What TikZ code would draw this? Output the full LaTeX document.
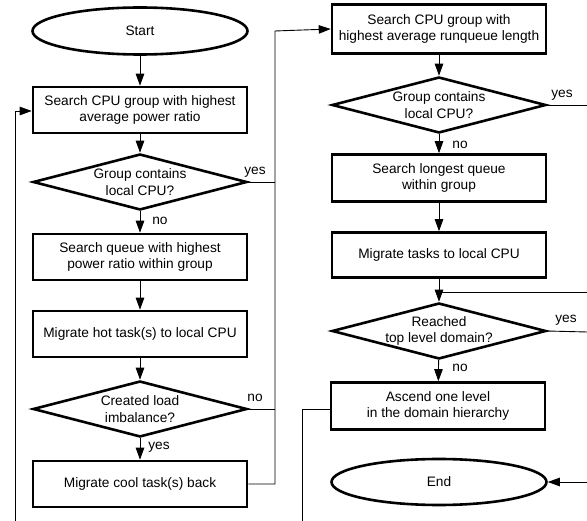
\documentclass[tikz,border=0pt]{standalone}
\usepackage{fontspec}
\setmainfont{Liberation Sans}
\usetikzlibrary{shapes.geometric,arrows.meta}
\begin{document}
\begin{tikzpicture}[x=1pt,y=-1pt,
  font=\fontsize{13.7}{16.5}\selectfont,
  box/.style={draw,line width=2.6pt,rectangle,minimum width=214pt,minimum height=46pt,align=center,inner sep=0pt},
  oval/.style={draw,line width=2.6pt,ellipse,minimum width=215pt,minimum height=47pt,inner sep=0pt},
  dia/.style={draw,line width=2.6pt,diamond,minimum width=214pt,minimum height=56pt,inner sep=0pt},
  txt/.style={align=center,inner sep=0pt},
  conn/.style={line width=0.9pt},
  arr/.style={line width=0.9pt,-{Triangle[length=12pt,width=8.5pt]}},
  lab/.style={inner sep=0pt}]
\useasboundingbox (0,0) rectangle (587,521);
% left column
\node[oval] (start) at (140,31) {Start};
\node[box] (b1) at (140,110) {Search CPU group with highest\\average power ratio};
\node[dia] (d1) at (140,182) {};
\node[txt] at (d1) {Group contains\\local CPU?};
\node[box] (b2) at (140,257) {Search queue with highest\\power ratio within group};
\node[box] (b3) at (140,334) {Migrate hot task(s) to local CPU};
\node[dia] (d2) at (140,409) {};
\node[txt] at (d2) {Created load\\imbalance?};
\node[box] (b4) at (140,484) {Migrate cool task(s) back};
% right column
\node[box,minimum height=49pt] (r1) at (439,29) {Search CPU group with\\highest average runqueue length};
\node[dia] (rd1) at (439,105) {};
\node[txt] at (rd1) {Group contains\\local CPU?};
\node[box,minimum height=47pt] (r2) at (439,178) {Search longest queue\\within group};
\node[box,minimum height=45pt] (r3) at (439,255) {Migrate tasks to local CPU};
\node[dia] (rd2) at (439,331) {};
\node[txt] at (rd2) {Reached\\top level domain?};
\node[box,minimum height=47pt] (r4) at (438,406) {Ascend one level\\in the domain hierarchy};
\node[oval,minimum height=46pt] (end) at (439,482) {End};
% coordinates
\coordinate (jx1) at (275,182);
\coordinate (jx2) at (275,409);
\coordinate (jx3) at (275,484);
\coordinate (jtop) at (275,31);
\coordinate (lb) at (15,521);
\coordinate (lt) at (15,111);
\coordinate (rin) at (587,292);
\coordinate (rmerge) at (439,292);
\coordinate (ry1) at (587,105);
\coordinate (ry2) at (587,332);
\coordinate (rend) at (587,482);
\coordinate (ac) at (302,409);
\coordinate (ab) at (302,521);
% left connectors
\draw[arr] (start) -- (b1);
\draw[arr] (b1) -- (d1);
\draw[arr] (d1) -- (b2);
\draw[arr] (b2) -- (b3);
\draw[arr] (b3) -- (d2);
\draw[arr] (d2) -- (b4);
\draw[conn] (d1.east) -- (jx1);
\draw[conn] (d2.east) -- (jx2);
\draw[arr] (b4.east) -- (jx3) -- (jtop) -- (r1.west);
\draw[arr] (lb) -- (lt) -- (b1.west |- lt);
% right connectors
\draw[arr] (r1) -- (rd1);
\draw[arr] (rd1) -- (r2);
\draw[arr] (r2) -- (r3);
\draw[arr] (r3) -- (rd2);
\draw[conn] (rin) -- (rmerge);
\draw[arr] (rd2) -- (r4);
\draw[conn] (rd1.east) -- (ry1);
\draw[conn] (rd2.east) -- (ry2);
\draw[arr] (rend) -- (end.east);
\draw[conn] (r4.west |- ac) -- (ac) -- (ab);
% labels
\node[lab] at (255,172) {yes};
\node[lab] at (160,221) {no};
\node[lab] at (255,398) {no};
\node[lab] at (159,447) {yes};
\node[lab] at (562,95) {yes};
\node[lab] at (460,145) {no};
\node[lab] at (566,320) {yes};
\node[lab] at (460,368) {no};
\end{tikzpicture}
\end{document}
